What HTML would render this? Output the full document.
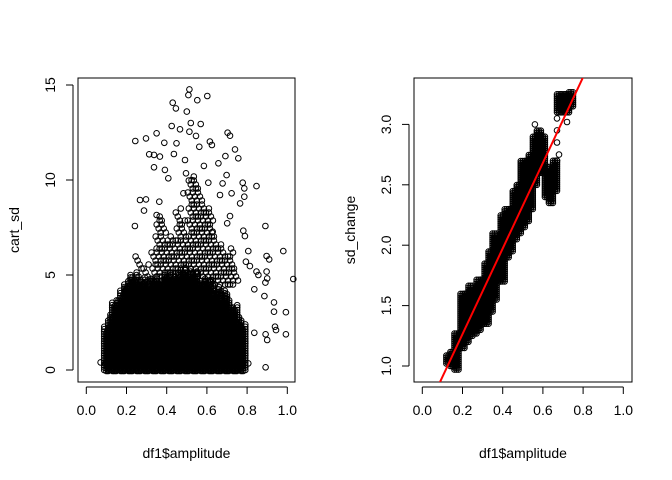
<!DOCTYPE html>
<html><head><meta charset="utf-8"><style>
html,body{margin:0;padding:0;background:#fff}
svg{display:block;font-family:"Liberation Sans",Arial,sans-serif}
</style></head><body>
<svg id="c" width="672" height="480" viewBox="0 0 672 480"></svg>
<script>
// ---- Left panel data (cart_sd vs amplitude) ----
const leftDenseX = [0.10,0.12,0.14,0.16,0.18,0.20,0.22,0.24,0.26,0.28,0.30,0.32,0.34,0.36,0.38,0.40,0.42,0.44,0.46,0.48,0.50,0.52,0.54,0.56,0.58,0.60,0.62,0.64,0.66,0.68,0.70,0.72,0.74,0.76,0.78];
const leftDenseTop = [2.3,3.0,3.7,3.8,4.4,4.6,5.0,5.1,4.8,5.0,4.6,4.9,5.0,4.7,5.0,5.1,5.2,4.8,5.3,5.5,5.0,5.4,5.2,4.6,5.0,4.7,4.8,4.2,4.5,4.0,4.2,3.4,3.5,3.0,2.6];
const leftMidX = [0.26,0.30,0.34,0.36,0.38,0.40,0.42,0.44,0.46,0.48,0.50,0.52,0.54,0.56,0.58,0.60,0.62,0.64,0.66,0.68,0.70,0.72,0.74];
const leftMidTop = [6.0,5.6,6.4,8.2,8.0,7.0,7.2,7.0,8.5,8.0,7.0,10.2,10.0,9.6,8.8,8.5,8.4,7.2,6.8,6.6,6.0,6.5,5.5];
const leftOutX = [0.513,0.508,0.602,0.552,0.43,0.446,0.5,0.52,0.569,0.425,0.466,0.513,0.546,0.35,0.297,0.244,0.703,0.715,0.615,0.625,0.388,0.449,0.562,0.74,0.313,0.337,0.366,0.436,0.491,0.692,0.756,0.337,0.391,0.657,0.585,0.698,0.408,0.496,0.524,0.678,0.778,0.847,0.786,0.607,0.723,0.786,0.665,0.267,0.297,0.363,0.483,0.765,0.287,0.35,0.715,0.242,0.701,0.891,0.781,0.789,0.629,0.806,0.98,0.897,0.91,0.794,0.814,0.847,0.897,1.03,0.856,0.9,0.891,0.836,0.886,0.934,0.934,0.993,0.939,0.944,0.836,0.892,0.9,0.993,0.892,0.806,0.765,0.071];
const leftOutY = [14.77,14.47,14.42,14.2,14.07,13.77,13.6,13.0,12.95,12.84,12.67,12.54,12.32,12.46,12.19,12.05,12.49,12.33,12.02,11.84,11.96,11.93,11.75,11.61,11.35,11.32,11.23,11.37,11.05,11.26,11.14,10.67,10.53,10.88,10.74,10.26,10.09,10.35,10.0,9.82,9.86,9.68,9.56,9.86,9.3,9.12,9.21,8.95,8.98,8.86,9.3,8.77,8.39,8.16,8.1,7.58,7.72,7.58,7.33,7.05,7.28,6.26,6.26,6.0,5.82,5.7,5.47,5.18,5.18,4.79,5.0,4.82,4.6,4.25,3.89,3.56,3.07,3.04,2.28,2.1,1.96,1.88,1.58,1.88,0.14,0.35,0.56,0.4];
const leftXTicks = ["0.0","0.2","0.4","0.6","0.8","1.0"];
const leftYTicks = ["0","5","10","15"];
// ---- Right panel data (sd_change vs amplitude) ----
const rightX = [0.13,0.15,0.17,0.20,0.22,0.24,0.26,0.28,0.30,0.32,0.34,0.36,0.38,0.40,0.42,0.44,0.46,0.48,0.50,0.52,0.54,0.56,0.58,0.60,0.62,0.64,0.66,0.68,0.70,0.72,0.74];
const rightLow = [1.02,1.0,0.97,1.15,1.2,1.25,1.27,1.3,1.35,1.35,1.45,1.55,1.7,1.7,1.9,1.95,2.05,2.1,2.15,2.2,2.3,2.5,2.6,2.6,2.4,2.35,2.45,3.1,3.1,3.1,3.15];
const rightHigh = [1.1,1.13,1.27,1.6,1.6,1.67,1.6,1.73,1.72,1.85,1.95,2.1,2.0,2.25,2.3,2.3,2.45,2.5,2.7,2.7,2.75,2.9,2.95,2.9,2.65,2.6,2.7,3.25,3.25,3.25,3.28];
const rightSparseX = [0.67,0.67,0.67,0.67,0.68,0.72,0.56];
const rightSparseY = [2.7,2.85,2.95,3.05,2.75,3.02,3.0];
const fitIntercept = 0.555, fitSlope = 3.545;
const rightXTicks = ["0.0","0.2","0.4","0.6","0.8","1.0"];
const rightYTicks = ["1.0","1.5","2.0","2.5","3.0"];

const NS="http://www.w3.org/2000/svg", svg=document.getElementById('c');
function mk(tag,attrs,parent){const e=document.createElementNS(NS,tag);for(const k in attrs)e.setAttribute(k,attrs[k]);(parent||svg).appendChild(e);return e;}
function txt(s,x,y,rot,parent){const t=mk('text',{x:x,y:y,'font-size':14,fill:'#000','text-anchor':'middle'},parent);if(rot)t.setAttribute('transform','rotate(-90 '+x+' '+y+')');t.textContent=s;return t;}

function axes(P,xt,yt,xlab,ylab,name){
  const g=mk('g',{});
  
  
  const b=mk('rect',{x:P.bx0,y:P.by0,width:P.bx1-P.bx0,height:P.by1-P.by0,fill:'none',stroke:'#000','stroke-width':1},g);
  
  
  const ax=P.sx(+xt[0]),bx=P.sx(+xt[xt.length-1]);
  mk('line',{x1:ax,x2:bx,y1:P.by1+5,y2:P.by1+5,stroke:'#000'},g);
  xt.forEach(v=>{const x=P.sx(+v);mk('line',{x1:x,x2:x,y1:P.by1+5,y2:P.by1+12,stroke:'#000'},g);
    const t=txt(v,x,P.by1+33,false,g);
    
    });
  const ay=P.sy(+yt[0]),by=P.sy(+yt[yt.length-1]);
  mk('line',{x1:P.bx0-5,x2:P.bx0-5,y1:ay,y2:by,stroke:'#000'},g);
  yt.forEach(v=>{const y=P.sy(+v);mk('line',{x1:P.bx0-12,x2:P.bx0-5,y1:y,y2:y,stroke:'#000'},g);
    const t=txt(v,P.bx0-23,y,true,g);
    
    });
  const xl=txt(xlab,(P.bx0+P.bx1)/2,458,false,g);
  
  
  const yl=txt(ylab,P.bx0-59,(P.by0+P.by1)/2,true,g);
  
  
}
function pt(g,x,y){mk('circle',{cx:x.toFixed(1),cy:y.toFixed(1),r:2.8,fill:'none',stroke:'#000','stroke-width':1},g);}

// Left panel
const L={bx0:78,bx1:295,by0:78,by1:382,sx:v=>86.3+v*201,sy:v=>370-v*19};
axes(L,leftXTicks,leftYTicks,'df1$amplitude','cart_sd','left');
const lg=mk('g',{});


leftDenseX.forEach((xv,i)=>{const x0=L.sx(xv-0.011),x1=L.sx(xv+0.011),yt=L.sy(leftDenseTop[i]);
  let k=0;
  for(let x=x0;x<=x1;x+=2.2,k++){const top=yt+((k*7+i*3)%5)*2;
    for(let y=L.sy(0)+((k+i)%2);y>=top;y-=2.4)pt(lg,x,y);}});
leftMidX.forEach((xv,i)=>{
  let k=0;
  for(let y=L.sy(4.5);y>=L.sy(leftMidTop[i]);y-=4,k++){pt(lg,L.sx(xv)+((k*5+i)%7)-3,y);}});
leftOutX.forEach((xv,i)=>pt(lg,L.sx(xv),L.sy(leftOutY[i])));

// Right panel
const R={bx0:414,bx1:632,by0:78,by1:382,sx:v=>422.3+v*201,sy:v=>366-(v-1)*120.8};
axes(R,rightXTicks,rightYTicks,'df1$amplitude','sd_change','right');
const rg=mk('g',{});


rightX.forEach((xv,i)=>{const x0=R.sx(xv-0.01),x1=R.sx(xv+0.01),y0=R.sy(rightLow[i]),y1=R.sy(rightHigh[i]);
  for(let x=x0;x<=x1;x+=2)for(let y=y0;y>=y1;y-=2)pt(rg,x,y);});
rightSparseX.forEach((xv,i)=>pt(rg,R.sx(xv),R.sy(rightSparseY[i])));
const clip=mk('clipPath',{id:'rc'});mk('rect',{x:R.bx0,y:R.by0,width:R.bx1-R.bx0,height:R.by1-R.by0},clip);
const xa=0.0,xb=1.0;
const fit=mk('line',{x1:R.sx(xa),y1:R.sy(fitIntercept+fitSlope*xa),x2:R.sx(xb),y2:R.sy(fitIntercept+fitSlope*xb),stroke:'#f00','stroke-width':2,'clip-path':'url(#rc)'});


</script>
</body></html>
